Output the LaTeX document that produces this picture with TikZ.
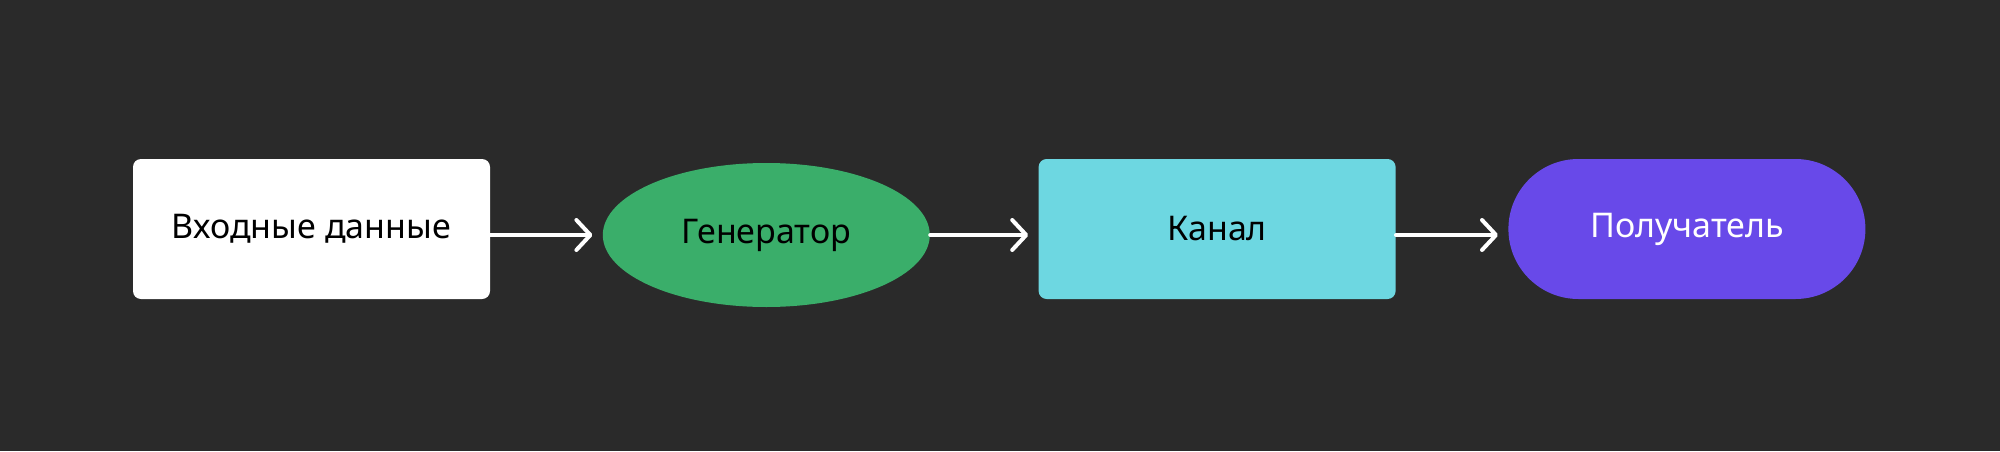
\documentclass[tikz,border=0pt]{standalone}
\usepackage{fontspec}
\setmainfont{Noto Sans}
\usetikzlibrary{positioning,shapes.geometric,arrows.meta}

\definecolor{bgdark}{HTML}{2A2A2A}
\definecolor{gengreen}{HTML}{3AAE6A}
\definecolor{chancyan}{HTML}{6DD7E1}
\definecolor{recvpurple}{HTML}{6849E9}

\tikzset{
	block/.style={rectangle, rounded corners=4pt, inner sep=0pt,
		minimum width=178.5pt, minimum height=70pt, font=\fontsize{17}{20}\selectfont},
	flow/.style={draw=white, line width=2pt, line cap=round, shorten >=5pt,
		-{Straight Barb[length=7pt,width=15pt,line width=2pt,round]}}
}

\begin{document}
\begin{tikzpicture}
	\fill[bgdark] (0,0) rectangle (1000pt,225.5pt);
	\useasboundingbox (0,0) rectangle (1000pt,225.5pt);

	\node[block, fill=white, text=black] (inp) at (155.75pt,111pt) {Входные данные};
	\node[ellipse, fill=gengreen, text=black, inner sep=0pt, minimum width=163.5pt,
		minimum height=72pt, font=\fontsize{17}{20}\selectfont,
		right=56pt of inp, yshift=-3pt] (gen) {Генератор};
	\node[block, fill=chancyan, text=black, right=54pt of gen, yshift=3pt] (chan) {Канал};
	\node[block, rounded corners=35pt, fill=recvpurple, text=white,
		right=56pt of chan] (recv) {Получатель};

	\draw[flow] (inp.east |- gen.center) -- (gen.west);
	\draw[flow] (gen.east) -- (chan.west |- gen.center);
	\draw[flow] (chan.east |- gen.center) -- (recv.west |- gen.center);
\end{tikzpicture}
\end{document}
